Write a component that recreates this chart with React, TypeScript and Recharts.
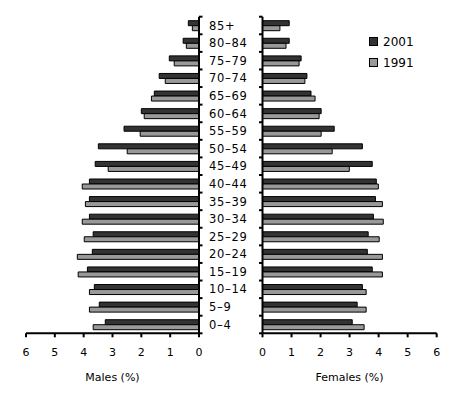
import React from 'react';
import { BarChart, Bar, XAxis, YAxis, Legend } from 'recharts';

const ages = ['85+', '80–84', '75–79', '70–74', '65–69', '60–64', '55–59', '50–54', '45–49', '40–44', '35–39', '30–34', '25–29', '20–24', '15–19', '10–14', '5–9', '0–4'];
const males2001 = [0.37, 0.55, 1.03, 1.38, 1.55, 2.0, 2.6, 3.49, 3.6, 3.8, 3.8, 3.8, 3.67, 3.7, 3.87, 3.63, 3.46, 3.25];
const males1991 = [0.23, 0.44, 0.86, 1.17, 1.65, 1.9, 2.04, 2.49, 3.15, 4.05, 3.94, 4.05, 3.98, 4.22, 4.19, 3.8, 3.8, 3.67];
const females2001 = [0.92, 0.92, 1.33, 1.53, 1.67, 2.02, 2.47, 3.44, 3.78, 3.92, 3.89, 3.82, 3.64, 3.61, 3.78, 3.44, 3.26, 3.09];
const females1991 = [0.6, 0.81, 1.26, 1.46, 1.81, 1.95, 2.02, 2.4, 2.99, 3.99, 4.13, 4.16, 4.02, 4.13, 4.13, 3.57, 3.57, 3.5];
const xTicks = [0, 1, 2, 3, 4, 5, 6];
const seriesNames = ['2001', '1991'];

const maleData = ages.map((age, i) => ({ age, y2001: males2001[i], y1991: males1991[i] }));
const femaleData = ages.map((age, i) => ({ age, y2001: females2001[i], y1991: females1991[i] }));

const DARK = '#333333';
const LIGHT = '#999999';
const FONT = '"DejaVu Sans", Verdana, sans-serif';

const H = 398;
const TOP = 16.7;
const X_AXIS_H = 50;
const BOTTOM = H - 333.3 - X_AXIS_H;
const PLOT_H = H - TOP - BOTTOM - X_AXIS_H;
const BAND = PLOT_H / ages.length;

const LeftTick = (props: any) => {
  const { x, y, payload, index } = props;
  const last = index === ages.length - 1;
  return (
    <g>
      <line x1={x} x2={x + 3.5} y1={y - BAND / 2} y2={y - BAND / 2} stroke="#000" strokeWidth={2} />
      {last && <line x1={x} x2={x + 3.5} y1={y + BAND / 2} y2={y + BAND / 2} stroke="#000" strokeWidth={2} />}
      <text x={x + 10} y={y} dy="0.36em" textAnchor="start" fontSize={11.5} fill="#000" fontFamily={FONT} letterSpacing={0.7}>
        {payload.value}
      </text>
    </g>
  );
};

const RightTick = (props: any) => {
  const { x, y, index } = props;
  const last = index === ages.length - 1;
  return (
    <g>
      <line x1={x - 3.5} x2={x} y1={y - BAND / 2} y2={y - BAND / 2} stroke="#000" strokeWidth={2} />
      {last && <line x1={x - 3.5} x2={x} y1={y + BAND / 2} y2={y + BAND / 2} stroke="#000" strokeWidth={2} />}
    </g>
  );
};

const LegendContent = (props: any) => {
  const items = [...(props.payload || [])].sort(
    (a: any, b: any) => seriesNames.indexOf(a.value) - seriesNames.indexOf(b.value)
  );
  return (
    <div style={{ fontFamily: FONT, fontSize: 12, color: '#000' }}>
      {items.map((p: any) => (
        <div key={p.value} style={{ display: 'flex', alignItems: 'center', height: 21 }}>
          <span style={{ display: 'inline-block', width: 7, height: 7, background: p.color, border: '1px solid #000', marginRight: 5 }} />
          <span>{p.value}</span>
        </div>
      ))}
    </div>
  );
};

const axisLine = { stroke: '#000', strokeWidth: 2 };
const tickStyle = { fill: '#000', fontSize: 11, fontFamily: FONT };

export default function App() {
  return (
    <div style={{ position: 'absolute', left: 0, top: 0, width: 464, height: H, background: '#fff', fontFamily: FONT }}>
      <div style={{ position: 'absolute', left: 0, top: 0 }}>
        <BarChart
          width={262}
          height={H}
          data={maleData}
          layout="vertical"
          margin={{ top: TOP, right: 3, bottom: BOTTOM, left: 26 }}
          barSize={5}
          barGap={0}
        >
          <XAxis
            type="number"
            domain={[0, 6]}
            ticks={xTicks}
            reversed
            height={X_AXIS_H}
            tickSize={4}
            tickMargin={11}
            axisLine={axisLine}
            tickLine={{ stroke: '#000', strokeWidth: 2 }}
            tick={tickStyle}
            interval={0}
            label={{ value: 'Males (%)', position: 'insideBottom', offset: 2, fill: '#000', fontSize: 11, fontFamily: FONT }}
          />
          <YAxis
            type="category"
            dataKey="age"
            orientation="right"
            width={60}
            tickSize={0}
            tickMargin={0}
            tickLine={false}
            axisLine={axisLine}
            tick={<LeftTick />}
            interval={0}
          />
          <Bar dataKey="y2001" name={seriesNames[0]} fill={DARK} stroke="#000" strokeWidth={1} isAnimationActive={false} />
          <Bar dataKey="y1991" name={seriesNames[1]} fill={LIGHT} stroke="#000" strokeWidth={1} isAnimationActive={false} />
        </BarChart>
      </div>
      <div style={{ position: 'absolute', left: 0, top: 0 }}>
        <BarChart
          width={464}
          height={H}
          data={femaleData}
          layout="vertical"
          margin={{ top: TOP, right: 27.3, bottom: BOTTOM, left: 252.5 }}
          barSize={5}
          barGap={0}
        >
          <XAxis
            type="number"
            domain={[0, 6]}
            ticks={xTicks}
            height={X_AXIS_H}
            tickSize={4}
            tickMargin={11}
            axisLine={axisLine}
            tickLine={{ stroke: '#000', strokeWidth: 2 }}
            tick={tickStyle}
            interval={0}
            label={{ value: 'Females (%)', position: 'insideBottom', offset: 2, fill: '#000', fontSize: 11, fontFamily: FONT }}
          />
          <YAxis
            type="category"
            dataKey="age"
            orientation="left"
            width={10}
            tickSize={0}
            tickMargin={0}
            tickLine={false}
            axisLine={axisLine}
            tick={<RightTick />}
            interval={0}
          />
          <Legend
            layout="horizontal"
            verticalAlign="middle"
            align="center"
            content={<LegendContent />}
            wrapperStyle={{ top: 31, left: 369, width: 60, height: 42 }}
          />
          <Bar dataKey="y2001" name={seriesNames[0]} fill={DARK} stroke="#000" strokeWidth={1} isAnimationActive={false} />
          <Bar dataKey="y1991" name={seriesNames[1]} fill={LIGHT} stroke="#000" strokeWidth={1} isAnimationActive={false} />
        </BarChart>
      </div>
    </div>
  );
}
